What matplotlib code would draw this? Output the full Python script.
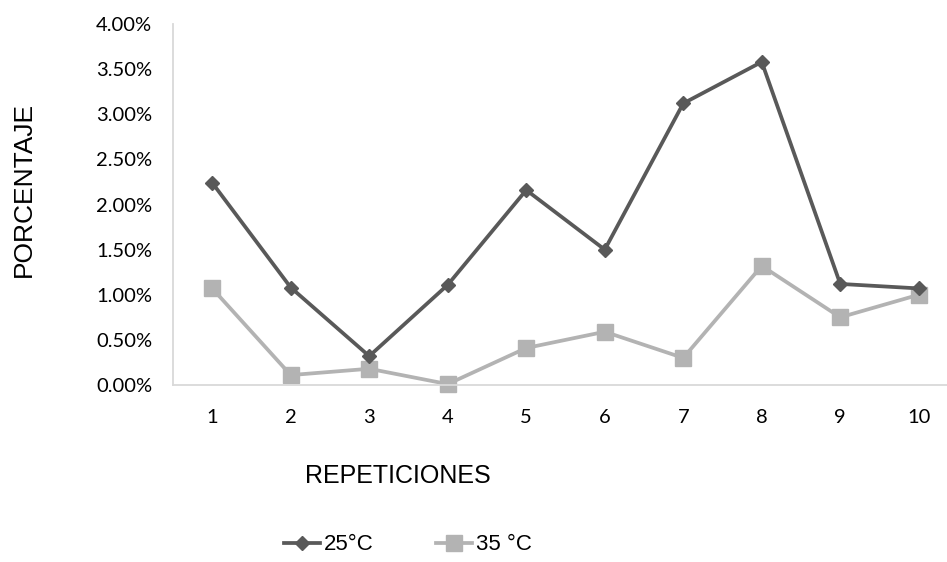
import matplotlib
matplotlib.use("Agg")
import matplotlib.pyplot as plt
from matplotlib.ticker import FuncFormatter

repeticiones = [1, 2, 3, 4, 5, 6, 7, 8, 9, 10]
t25 = [2.24, 1.08, 0.32, 1.11, 2.16, 1.50, 3.12, 3.58, 1.12, 1.07]
t35 = [1.07, 0.11, 0.18, 0.01, 0.41, 0.59, 0.30, 1.32, 0.75, 1.00]
yticks = [0, 0.5, 1.0, 1.5, 2.0, 2.5, 3.0, 3.5, 4.0]

fig = plt.figure(figsize=(9.47, 5.62), dpi=100)
ax = fig.add_axes([173/947, (562-385)/562, (958-173)/947, (385-24)/562])

ax.plot(repeticiones, t25, color="#595959", lw=2.7, marker="D", ms=7.5, label="25°C", clip_on=False, zorder=3)
ax.plot(repeticiones, t35, color="#b3b3b3", lw=2.7, marker="s", ms=11, label="35 °C", clip_on=False, zorder=2)

ax.set_xlim(0.5, 10.5)
ax.set_ylim(0, 4)
ax.set_xticks(repeticiones)
ax.set_yticks(yticks)
ax.yaxis.set_major_formatter(FuncFormatter(lambda v, p: "%.2f%%" % v))
ax.tick_params(length=0, labelsize=14.5, colors="#000000")
ax.tick_params(axis="x", pad=17)
ax.tick_params(axis="y", pad=15)
for t in ax.get_xticklabels() + ax.get_yticklabels():
    t.set_family("Lato")

for s in ["top", "right"]:
    ax.spines[s].set_visible(False)
for s in ["left", "bottom"]:
    ax.spines[s].set_color("#d9d9d9")
    ax.spines[s].set_linewidth(1.3)

fig.text(24/947, 1 - 189/562, "PORCENTAJE", rotation=90, ha="center", va="center",
         fontsize=19, family="Liberation Sans")
fig.text(398/947, 1 - 476/562, "REPETICIONES", ha="center", va="center",
         fontsize=18, family="Liberation Sans")

leg = fig.legend(loc="center", bbox_to_anchor=(408/947, 1 - 545/562), ncol=2, frameon=False,
                 prop={"family": "Liberation Sans", "size": 16}, handlelength=1.6,
                 columnspacing=2.8, handletextpad=0.2)

fig.savefig("out.png", dpi=100)
